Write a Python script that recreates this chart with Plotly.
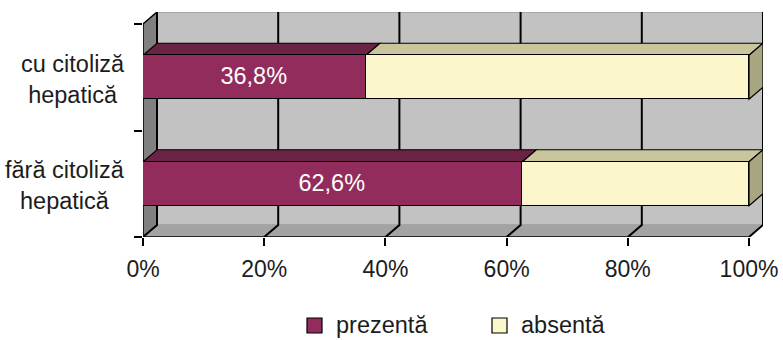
import plotly.graph_objects as go

# ---- data -------------------------------------------------------------
categories = ["cu citoliză hepatică", "fără citoliză hepatică"]
category_labels = ["cu citoliză<br>hepatică", "fără citoliză<br>hepatică"]
prezenta = [36.8, 62.6]
absenta = [63.2, 37.4]
series_names = ["prezentă", "absentă"]
x_ticks = [0, 20, 40, 60, 80, 100]
x_tick_labels = ["0%", "20%", "40%", "60%", "80%", "100%"]

# ---- styling / geometry ----------------------------------------------
W, H = 783, 340
PX_LEFT, PX_RIGHT = 143, 763      # plot domain in pixels (front 0% .. back 100%)
PX_TOP, PX_BOTTOM = 12, 237
DEPTH_X_PX, DEPTH_Y_PX = 14, 12   # 3-D depth offset of the back wall
FRONT_WIDTH_PX = 606              # 0%..100% on the front plane

ux = FRONT_WIDTH_PX / 100.0
DX = DEPTH_X_PX / ux
n_cat = len(categories)
band_px = (PX_BOTTOM - PX_TOP - DEPTH_Y_PX) / n_cat
DY = DEPTH_Y_PX / band_px
Y0, Y1 = -0.5, n_cat - 0.5
BAR_W = 0.413

FONT = "Liberation Sans, Arial, sans-serif"
FS = 23.5
TXT = "#1c1c1c"
PREZ_FRONT, PREZ_TOP = "#922c5c", "#6b2345"
ABS_FRONT, ABS_TOP, ABS_SIDE = "#fbf6cc", "#c9c59c", "#a8a680"
BACK_WALL, SIDE_WALL, FLOOR = "#c2c2c2", "#808080", "#a3a3a3"


def fmt(v):
    return f"{v:.1f}".replace(".", ",") + "%"


def path(points):
    return "M " + " L ".join(f"{x},{y}" for x, y in points) + " Z"


def px_to_paper(px, py):
    return ((px - PX_LEFT) / (PX_RIGHT - PX_LEFT),
            (PX_BOTTOM - py) / (PX_BOTTOM - PX_TOP))


# plotting order is bottom-to-top
cats = categories[::-1]
prez = prezenta[::-1]
absn = absenta[::-1]
labels = category_labels[::-1]

fig = go.Figure()
fig.add_trace(go.Bar(
    y=cats, x=prez, orientation="h", width=BAR_W, name=series_names[0],
    marker=dict(color=PREZ_FRONT, line=dict(color="black", width=1.5)),
    text=[fmt(v) for v in prez], textposition="inside",
    insidetextanchor="middle",
    textfont=dict(color="white", size=FS, family=FONT),
))
fig.add_trace(go.Bar(
    y=cats, x=absn, orientation="h", width=BAR_W, name=series_names[1],
    marker=dict(color=ABS_FRONT, line=dict(color="black", width=1.5)),
))

shapes = []
# walls and floor
shapes.append(dict(type="rect", xref="x", yref="y", layer="below",
                   x0=DX, x1=100 + DX, y0=Y0 + DY, y1=Y1 + DY,
                   fillcolor=BACK_WALL, line=dict(color="#8a8a8a", width=1)))
shapes.append(dict(type="path", xref="x", yref="y", layer="below",
                   path=path([(0, Y0), (DX, Y0 + DY), (DX, Y1 + DY), (0, Y1)]),
                   fillcolor=SIDE_WALL, line=dict(width=0)))
shapes.append(dict(type="path", xref="x", yref="y", layer="below",
                   path=path([(0, Y0), (100, Y0), (100 + DX, Y0 + DY), (DX, Y0 + DY)]),
                   fillcolor=FLOOR, line=dict(width=0)))
# gridlines on floor and back wall
for t in x_ticks:
    shapes.append(dict(type="path", xref="x", yref="y", layer="below",
                       path=f"M {t},{Y0} L {t + DX},{Y0 + DY} L {t + DX},{Y1 + DY}",
                       line=dict(color="black", width=2)))
shapes.append(dict(type="line", xref="x", yref="y", layer="below",
                   x0=0, y0=Y1, x1=DX, y1=Y1 + DY,
                   line=dict(color="black", width=1.5)))
# front axis lines
shapes.append(dict(type="line", xref="x", yref="y", layer="below",
                   x0=0, y0=Y0, x1=100, y1=Y0, line=dict(color="black", width=1.5)))
shapes.append(dict(type="line", xref="x", yref="y", layer="below",
                   x0=0, y0=Y0, x1=0, y1=Y1, line=dict(color="black", width=1.5)))

# 3-D top and side faces of the stacked bars
for i in range(n_cat):
    top = i + BAR_W / 2
    bot = i - BAR_W / 2
    segs = [(0, prez[i], PREZ_TOP), (prez[i], prez[i] + absn[i], ABS_TOP)]
    for x0, x1, col in segs:
        shapes.append(dict(type="path", xref="x", yref="y", layer="below",
                           path=path([(x0, top), (x1, top), (x1 + DX, top + DY), (x0 + DX, top + DY)]),
                           fillcolor=col, line=dict(color="black", width=1.2)))
    xe = prez[i] + absn[i]
    shapes.append(dict(type="path", xref="x", yref="y", layer="below",
                       path=path([(xe, bot), (xe + DX, bot + DY), (xe + DX, top + DY), (xe, top)]),
                       fillcolor=ABS_SIDE, line=dict(color="black", width=1.2)))

annotations = []
# category labels, centred lines, right edge left of the axis
for i, lab in enumerate(labels):
    annotations.append(dict(xref="paper", yref="y", x=(127 - PX_LEFT) / (PX_RIGHT - PX_LEFT),
                            y=i - 0.02, xanchor="right", yanchor="middle", align="center",
                            text=lab, showarrow=False,
                            font=dict(size=FS, color=TXT, family=FONT)))

# legend
legend_items = [(series_names[0], PREZ_FRONT, 307), (series_names[1], ABS_FRONT, 492)]
for name, col, sx in legend_items:
    ax0, ay0 = px_to_paper(sx, 333)
    ax1, ay1 = px_to_paper(sx + 15, 318)
    shapes.append(dict(type="rect", xref="paper", yref="paper",
                       x0=ax0, y0=ay0, x1=ax1, y1=ay1,
                       fillcolor=col, line=dict(color="black", width=1.2)))
    tx, ty = px_to_paper(sx + 27, 325)
    annotations.append(dict(xref="paper", yref="paper", x=tx, y=ty,
                            xanchor="left", yanchor="middle", text=name,
                            showarrow=False, font=dict(size=FS, color=TXT, family=FONT)))

fig.update_layout(
    width=W, height=H, autosize=False,
    margin=dict(l=PX_LEFT, r=W - PX_RIGHT, t=PX_TOP, b=H - PX_BOTTOM, pad=0),
    paper_bgcolor="white", plot_bgcolor="white",
    barmode="stack", bargap=0, showlegend=False,
    shapes=shapes, annotations=annotations,
    font=dict(family=FONT, color=TXT),
    xaxis=dict(range=[0, 100 + DX], tickvals=x_ticks, ticktext=x_tick_labels,
               ticks="outside", ticklen=8, tickwidth=1.5, tickcolor="black",
               ticklabelstandoff=3,
               showgrid=False, zeroline=False, showline=False, automargin=False,
               tickfont=dict(size=23, color=TXT, family=FONT), fixedrange=True),
    yaxis=dict(type="category", categoryorder="array", categoryarray=cats,
               range=[Y0, Y1 + DY], tickson="boundaries",
               ticks="outside", ticklen=8, tickwidth=1.5, tickcolor="black",
               showticklabels=False, showgrid=False, zeroline=False,
               showline=False, automargin=False, fixedrange=True),
)

fig.write_html("out.html")
